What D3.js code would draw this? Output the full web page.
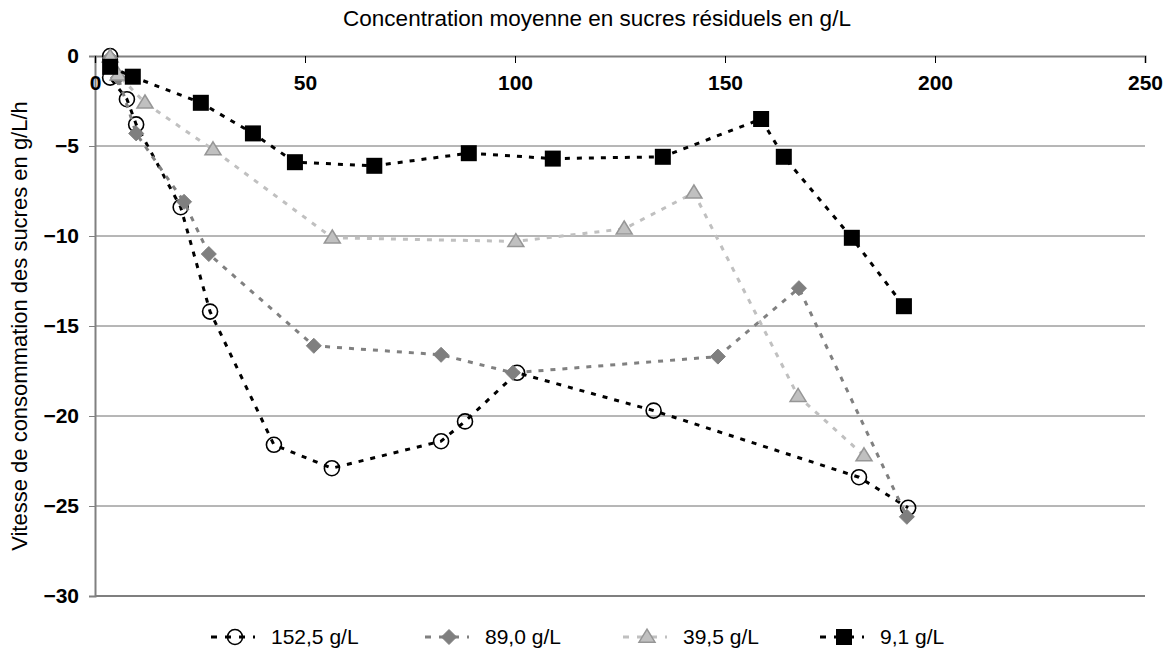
<!DOCTYPE html>
<html>
<head>
<meta charset="utf-8">
<script src="https://cdn.jsdelivr.net/npm/d3@7/dist/d3.min.js"></script>
<style>
  html, body { margin: 0; padding: 0; background: #fff; }
  svg { display: block; }
  text { font-family: "Liberation Sans", Arial, sans-serif; }
</style>
</head>
<body>
<svg id="chart" width="1169" height="661"></svg>
<script>
// ---- data ----
const seriesNames = ["152,5 g/L", "89,0 g/L", "39,5 g/L", "9,1 g/L"];

const s152x = [3.6, 3.6, 7.6, 9.8, 20.4, 27.4, 42.6, 56.4, 82.4, 88.1, 100.5, 133, 181.9, 193.6];
const s152y = [0, -1.2, -2.4, -3.8, -8.4, -14.2, -21.6, -22.9, -21.4, -20.3, -17.6, -19.7, -23.4, -25.1];

const s89x = [3.6, 5.5, 9.8, 21.2, 27.1, 52.1, 82.4, 99.5, 148.3, 167.6, 193.3];
const s89y = [-0.1, -1.2, -4.3, -8.1, -11.0, -16.1, -16.6, -17.6, -16.7, -12.9, -25.6];

const s39x = [3.6, 5.5, 11.9, 28.1, 56.5, 100.2, 126, 142.6, 167.4, 183.1];
const s39y = [-0.05, -1.05, -2.6, -5.2, -10.1, -10.3, -9.6, -7.6, -18.9, -22.2];

const s9x = [3.6, 9.0, 25.2, 37.6, 47.6, 66.5, 89.0, 109, 135.2, 158.6, 164, 180.2, 192.6];
const s9y = [-0.6, -1.15, -2.6, -4.3, -5.9, -6.1, -5.4, -5.7, -5.6, -3.5, -5.6, -10.1, -13.9];

const xTicks = [0, 50, 100, 150, 200, 250];
const yTicks = [0, -5, -10, -15, -20, -25, -30];

const chartTitle = "Concentration moyenne en sucres résiduels en g/L";
const yTitle = "Vitesse de consommation des sucres en g/L/h";

// ---- layout ----
const svg = d3.select("#chart");
const L = 95, R = 1145, T = 56, B = 596;
const x = d3.scaleLinear().domain([0, 250]).range([L, R]);
const y = d3.scaleLinear().domain([0, -30]).range([T, B]);

// gridlines
svg.append("g").selectAll("line").data(yTicks.filter(d => d !== 0)).join("line")
  .attr("x1", L).attr("x2", R)
  .attr("y1", d => y(d)).attr("y2", d => y(d))
  .attr("stroke", d => d === -30 ? "#555" : "#6e6e6e").attr("stroke-width", d => d === -30 ? 1.5 : 1);

// y axis
const yAxis = d3.axisLeft(y).tickValues(yTicks).tickSize(6).tickFormat(d3.format("d"));
const gy = svg.append("g").attr("transform", `translate(${L},0)`).call(yAxis);
gy.select(".domain").attr("stroke", "#808080").attr("stroke-width", 2);
gy.selectAll(".tick line").attr("stroke", "#808080");
gy.selectAll(".tick text").attr("font-size", 21).attr("font-weight", "bold")
  .attr("fill", "#000").attr("x", -16).attr("font-family", "Liberation Sans, Arial, sans-serif");

// x axis (at y=0, top)
const xAxis = d3.axisBottom(x).tickValues(xTicks).tickSize(7).tickFormat(d3.format("d"));
const gx = svg.append("g").attr("transform", `translate(0,${y(0)})`).call(xAxis);
gx.select(".domain").attr("stroke", "#808080").attr("stroke-width", 2);
gx.selectAll(".tick line").attr("stroke", "#000");
gx.selectAll(".tick text").attr("font-size", 21).attr("font-weight", "bold")
  .attr("fill", "#000").attr("y", 19).attr("font-family", "Liberation Sans, Arial, sans-serif");

// titles
svg.append("text").attr("x", 597).attr("y", 26).attr("text-anchor", "middle")
  .attr("font-size", 22.5).text(chartTitle);
svg.append("text").attr("transform", "translate(27,326) rotate(-90)")
  .attr("text-anchor", "middle").attr("font-size", 22).text(yTitle);

// series
const series = [
  { name: seriesNames[0], xs: s152x, ys: s152y, line: "#000", marker: "circle" },
  { name: seriesNames[1], xs: s89x, ys: s89y, line: "#808080", marker: "diamond" },
  { name: seriesNames[2], xs: s39x, ys: s39y, line: "#c0c0c0", marker: "triangle" },
  { name: seriesNames[3], xs: s9x, ys: s9y, line: "#000", marker: "square" }
];

const lineGen = d3.line().x(d => x(d[0])).y(d => y(d[1]));

function drawMarker(g, type, cx, cy) {
  if (type === "circle") {
    g.append("circle").attr("cx", cx).attr("cy", cy).attr("r", 7.5)
      .attr("fill", "none").attr("stroke", "#000").attr("stroke-width", 1.6);
  } else if (type === "diamond") {
    const s = 7.5;
    g.append("path").attr("d", `M${cx},${cy - s}L${cx + s},${cy}L${cx},${cy + s}L${cx - s},${cy}Z`)
      .attr("fill", "#7f7f7f").attr("stroke", "#7f7f7f").attr("stroke-width", 1);
  } else if (type === "triangle") {
    const w = 8, h = 13;
    g.append("path").attr("d", `M${cx},${cy - h * 0.6}L${cx + w},${cy + h * 0.4}L${cx - w},${cy + h * 0.4}Z`)
      .attr("fill", "#c0c0c0").attr("stroke", "#969696").attr("stroke-width", 1.5);
  } else if (type === "square") {
    const s = 8;
    g.append("rect").attr("x", cx - s).attr("y", cy - s).attr("width", 2 * s).attr("height", 2 * s)
      .attr("fill", "#000");
  }
}

series.forEach(s => {
  const pts = s.xs.map((v, i) => [v, s.ys[i]]);
  const g = svg.append("g");
  g.append("path").datum(pts).attr("d", lineGen)
    .attr("fill", "none").attr("stroke", s.line).attr("stroke-width", 3)
    .attr("stroke-dasharray", "5,7");
  pts.forEach(p => drawMarker(g, s.marker, x(p[0]), y(p[1])));
});

// legend
const legendMarkerX = [235, 449, 647, 844];
const lg = svg.append("g");
series.forEach((s, i) => {
  const mx = legendMarkerX[i], ly = 637;
  lg.append("line").attr("x1", mx - 24).attr("x2", mx + 20).attr("y1", ly).attr("y2", ly)
    .attr("stroke", s.line).attr("stroke-width", 3).attr("stroke-dasharray", "6,8");
  drawMarker(lg, s.marker, mx, ly);
  lg.append("text").attr("x", mx + 36).attr("y", ly + 7).attr("font-size", 21).text(s.name);
});
</script>
</body>
</html>
